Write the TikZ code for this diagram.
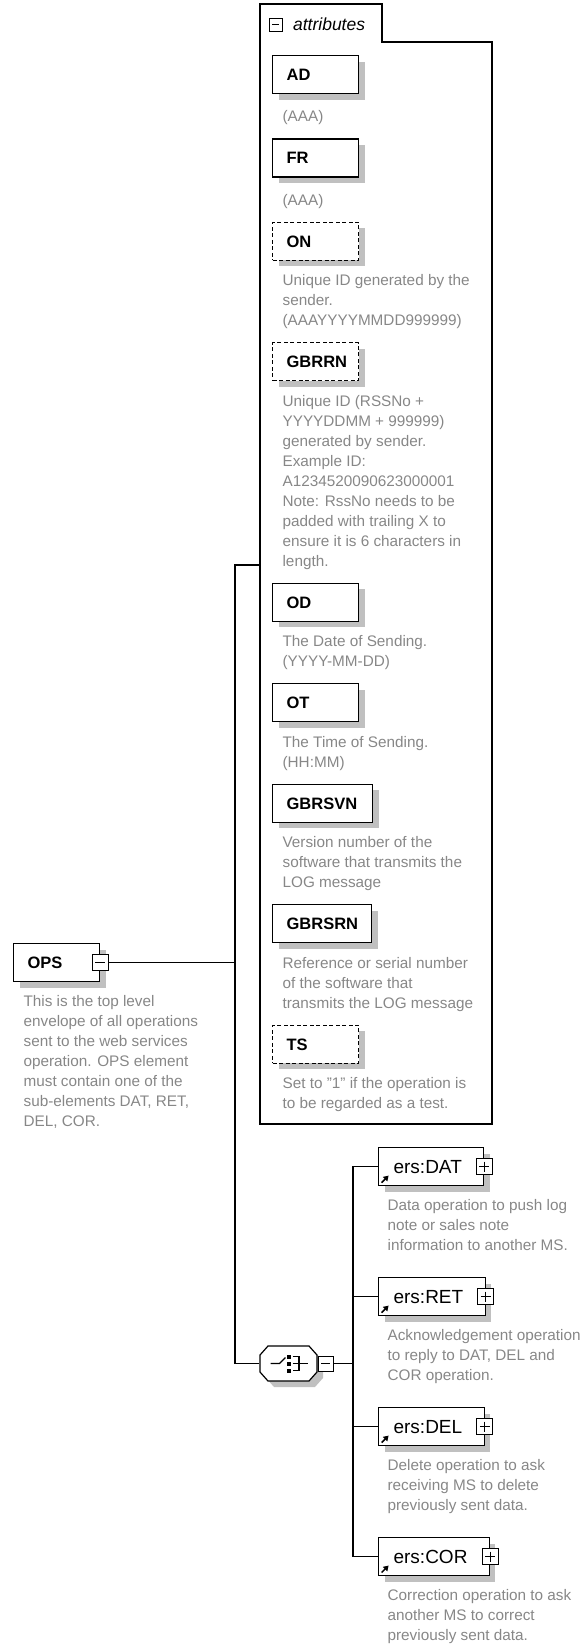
\documentclass[tikz,border=0pt]{standalone}
\usepackage{fontspec}
\setmainfont{Liberation Sans}
\usetikzlibrary{positioning}
\usetikzlibrary{shadows}
\usetikzlibrary{arrows.meta}

\definecolor{descgray}{RGB}{135,135,135}
\definecolor{shadowgray}{RGB}{192,192,192}

\tikzset{
  boxshadow/.style={drop shadow={shadow xshift=6pt, shadow yshift=-6pt, fill=shadowgray, opacity=1}},
  attbox/.style={rectangle, draw, fill=white, boxshadow, text width=58pt, align=left,
    inner xsep=14pt, inner ysep=0pt, minimum height=38pt, font=\fontsize{16.5}{20}\selectfont\bfseries},
  optbox/.style={attbox, dash pattern=on 4pt off 2.5pt},
  ersbox/.style={rectangle, draw, fill=white, boxshadow, inner xsep=0pt, inner ysep=0pt,
    minimum height=38pt, font=\fontsize{19}{22}\selectfont,
    execute at begin node={\hspace*{15pt}}, execute at end node={\hspace*{22pt}},
    path picture={\draw[line width=1.5pt, -{Triangle[length=5pt, width=6pt]}]
      ([shift={(3pt,3pt)}]path picture bounding box.south west) -- ++(7pt,7pt);}},
  desc/.style={inner sep=0pt, align=left, text=descgray, font=\fontsize{15.3}{20}\selectfont,
    execute at begin node=\strut, execute at end node=\strut},
  minusbox/.style={rectangle, draw, fill=white, line width=1pt, minimum size=16pt, inner sep=0pt,
    path picture={\draw[line width=1pt] ([xshift=3pt]path picture bounding box.west)
      -- ([xshift=-3pt]path picture bounding box.east);}},
  plusbox/.style={rectangle, draw, fill=white, line width=1pt, minimum size=16pt, inner sep=0pt,
    path picture={\draw[line width=1pt] ([xshift=3pt]path picture bounding box.west)
      -- ([xshift=-3pt]path picture bounding box.east);
      \draw[line width=1pt] ([yshift=-3pt]path picture bounding box.north)
      -- ([yshift=3pt]path picture bounding box.south);}},
  choicebox/.style={rectangle, minimum width=57pt, minimum height=35pt, inner sep=0pt,
    path picture={
      \draw ([xshift=-18pt]path picture bounding box.center) -- ++(9pt,0pt) -- ++(6pt,6pt);
      \fill[black] ([shift={(-1.5pt,5pt)}]path picture bounding box.center) rectangle ++(4pt,4pt);
      \fill[black] ([shift={(-1.5pt,-2pt)}]path picture bounding box.center) rectangle ++(4pt,4pt);
      \fill[black] ([shift={(-1.5pt,-9pt)}]path picture bounding box.center) rectangle ++(4pt,4pt);
      \draw ([shift={(4pt,7pt)}]path picture bounding box.center) -| ++(6.5pt,-14pt) -- ++(-6.5pt,0pt);
      \draw ([xshift=4pt]path picture bounding box.center) -- ++(15.5pt,0pt);}}
}

\begin{document}
\begin{tikzpicture}[x=1pt, y=1pt, line width=1.2pt]
  \useasboundingbox (0,0) rectangle (582,-1650);

  \coordinate (attnw) at (260,-4);
  \coordinate (tabse) at (382,-42);
  \coordinate (attse) at (492,-1124);
  \draw (attnw) -| (tabse) -| (attse) -| (attnw) -- cycle;
  \node(attminus)[minusbox, minimum size=13pt] at (275.5,-24.5) {};
  \node(attlabel)[right=10pt of attminus, inner sep=0pt, font=\fontsize{17.5}{20}\selectfont\itshape]{attributes};

  \node(ad)[attbox, below right=51pt and 12pt of attnw]{AD};
  \node(addesc)[desc, below right=13pt and 10pt of ad.south west]{(AAA)};

  \node(fr)[attbox, below right=10pt and -10pt of addesc.south west]{FR};
  \node(frdesc)[desc, below right=13pt and 10pt of fr.south west]{(AAA)};

  \node(on)[optbox, below right=10pt and -10pt of frdesc.south west]{ON};
  \node(ondesc)[desc, below right=13pt and 10pt of on.south west]{Unique ID generated by the\\sender.\\(AAAYYYYMMDD999999)};

  \node(gbrrn)[optbox, below right=10pt and -10pt of ondesc.south west]{GBRRN};
  \node(gbrrndesc)[desc, below right=13pt and 10pt of gbrrn.south west]{Unique ID (RSSNo +\\YYYYDDMM + 999999)\\generated by sender.\\Example ID:\\A1234520090623000001\\Note: RssNo needs to be\\padded with trailing X to\\ensure it is 6 characters in\\length.};

  \node(od)[attbox, below right=10pt and -10pt of gbrrndesc.south west]{OD};
  \node(oddesc)[desc, below right=13pt and 10pt of od.south west]{The Date of Sending.\\(YYYY-MM-DD)};

  \node(ot)[attbox, below right=10pt and -10pt of oddesc.south west]{OT};
  \node(otdesc)[desc, below right=13pt and 10pt of ot.south west]{The Time of Sending.\\(HH:MM)};

  \node(gbrsvn)[attbox, text width=72pt, below right=10pt and -10pt of otdesc.south west]{GBRSVN};
  \node(gbrsvndesc)[desc, below right=13pt and 10pt of gbrsvn.south west]{Version number of the\\software that transmits the\\LOG message};

  \node(gbrsrn)[attbox, text width=71pt, below right=10pt and -10pt of gbrsvndesc.south west]{GBRSRN};
  \node(gbrsrndesc)[desc, below right=13pt and 10pt of gbrsrn.south west]{Reference or serial number\\of the software that\\transmits the LOG message};

  \node(ts)[optbox, below right=10pt and -10pt of gbrsrndesc.south west]{TS};
  \node(tsdesc)[desc, below right=13pt and 10pt of ts.south west]{Set to "1" if the operation is\\to be regarded as a test.};

  \node(ops)[attbox, anchor=west] at (13,-962.5) {OPS};
  \node(opsminus)[minusbox] at (ops.east) {};
  \node(opsdesc)[desc, below right=13pt and 10pt of ops.south west]{This is the top level\\envelope of all operations\\sent to the web services\\operation. OPS element\\must contain one of the\\sub-elements DAT, RET,\\DEL, COR.};

  \coordinate (choicec) at (288.5,-1363.5);
  \draw[fill=white, boxshadow] ([shift={(-20.5,17.5)}]choicec) -- ++(41,0) -- ++(8,-9) -- ++(0,-17)
    -- ++(-8,-9) -- ++(-41,0) -- ++(-8,9) -- ++(0,17) -- cycle;
  \node(choice)[choicebox] at (choicec) {};
  \node(choiceminus)[minusbox, minimum size=15pt, anchor=west] at (choice.east) {};

  \node(dat)[ersbox, anchor=north west] at (378,-1147) {ers:DAT};
  \node(datplus)[plusbox] at (dat.east) {};
  \node(datdesc)[desc, below right=13pt and 9pt of dat.south west]{Data operation to push log\\note or sales note\\information to another MS.};

  \node(ret)[ersbox, below right=19.5pt and -9pt of datdesc.south west]{ers:RET};
  \node(retplus)[plusbox] at (ret.east) {};
  \node(retdesc)[desc, below right=13pt and 9pt of ret.south west]{Acknowledgement operation\\to reply to DAT, DEL and\\COR operation.};

  \node(del)[ersbox, below right=19.5pt and -9pt of retdesc.south west]{ers:DEL};
  \node(delplus)[plusbox] at (del.east) {};
  \node(deldesc)[desc, below right=13pt and 9pt of del.south west]{Delete operation to ask\\receiving MS to delete\\previously sent data.};

  \node(cor)[ersbox, below right=19.5pt and -9pt of deldesc.south west]{ers:COR};
  \node(corplus)[plusbox] at (cor.east) {};
  \node(cordesc)[desc, below right=13pt and 9pt of cor.south west]{Correction operation to ask\\another MS to correct\\previously sent data.};

  \coordinate (busA) at (235,-565);
  \coordinate (attjoin) at (attnw |- busA);
  \coordinate[left=25pt of dat.west] (busB);

  \draw (attjoin) -- (busA) |- (choice.west);
  \draw (opsminus.east) -- (opsminus.east -| busA);
  \draw (choiceminus.east) -- (choiceminus.east -| busB);
  \draw (dat.west) -- (busB) |- (cor.west);
  \draw (ret.west) -- (ret.west -| busB);
  \draw (del.west) -- (del.west -| busB);
\end{tikzpicture}
\end{document}
